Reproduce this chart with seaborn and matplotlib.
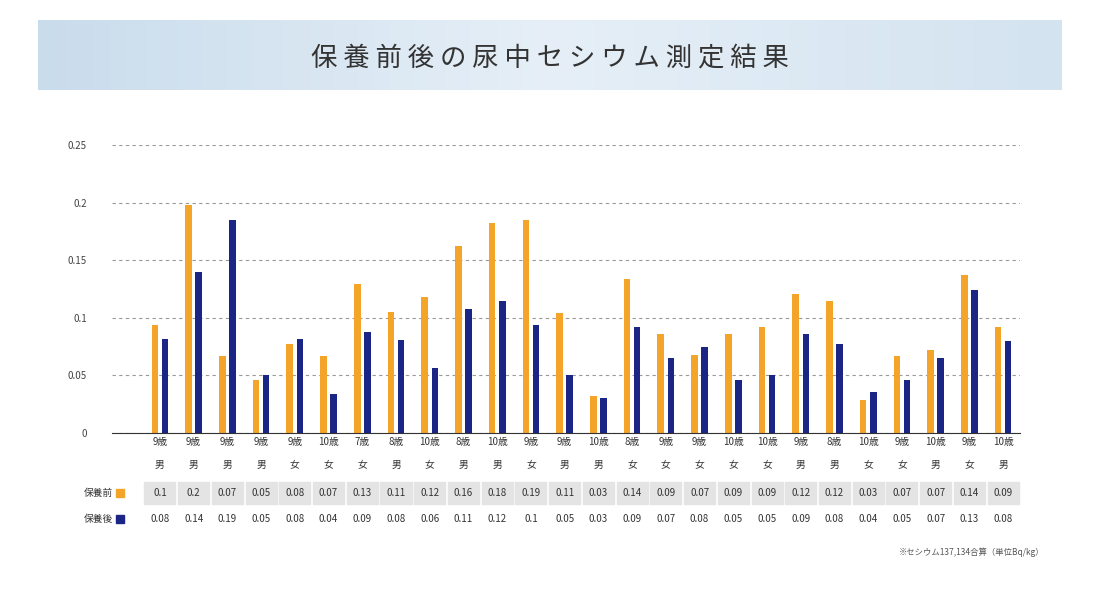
import numpy as np
import pandas as pd
import matplotlib.pyplot as plt
import matplotlib.patches as mpatches
from matplotlib.transforms import blended_transform_factory
import seaborn as sns

plt.rcParams["font.family"] = ["Noto Sans CJK JP", "DejaVu Sans"]

ages = ["9歳", "9歳", "9歳", "9歳", "9歳", "10歳", "7歳", "8歳", "10歳", "8歳", "10歳", "9歳", "9歳",
        "10歳", "8歳", "9歳", "9歳", "10歳", "10歳", "9歳", "8歳", "10歳", "9歳", "10歳", "9歳", "10歳"]
sexes = ["男", "男", "男", "男", "女", "女", "女", "男", "女", "男", "男", "女", "男",
         "男", "女", "女", "女", "女", "女", "男", "男", "女", "女", "男", "女", "男"]
before = [0.094, 0.198, 0.067, 0.046, 0.077, 0.067, 0.129, 0.105, 0.118, 0.162, 0.182, 0.185, 0.104,
          0.032, 0.134, 0.086, 0.068, 0.086, 0.092, 0.121, 0.115, 0.029, 0.067, 0.072, 0.137, 0.092]
after = [0.082, 0.140, 0.185, 0.050, 0.082, 0.034, 0.088, 0.081, 0.056, 0.108, 0.115, 0.094, 0.050,
         0.030, 0.092, 0.065, 0.075, 0.046, 0.050, 0.086, 0.077, 0.036, 0.046, 0.065, 0.124, 0.080]
before_lbl = ["0.1", "0.2", "0.07", "0.05", "0.08", "0.07", "0.13", "0.11", "0.12", "0.16", "0.18", "0.19", "0.11",
              "0.03", "0.14", "0.09", "0.07", "0.09", "0.09", "0.12", "0.12", "0.03", "0.07", "0.07", "0.14", "0.09"]
after_lbl = ["0.08", "0.14", "0.19", "0.05", "0.08", "0.04", "0.09", "0.08", "0.06", "0.11", "0.12", "0.1", "0.05",
             "0.03", "0.09", "0.07", "0.08", "0.05", "0.05", "0.09", "0.08", "0.04", "0.05", "0.07", "0.13", "0.08"]
series = ["保養前", "保養後"]
colors = ["#f5a42a", "#1a2585"]

n = len(ages)
df = pd.DataFrame({
    "idx": list(range(n)) * 2,
    "val": before + after,
    "series": [series[0]] * n + [series[1]] * n,
})

fig = plt.figure(figsize=(11, 6.01), dpi=100)

# header band
hdr = fig.add_axes([38 / 1100, 1 - 90 / 601, 1024 / 1100, 70 / 601])
grad = np.linspace(0, 1, 256).reshape(1, -1)
hdr.imshow(np.vstack([grad, grad]), aspect="auto",
           cmap=sns.blend_palette(["#c9dcec", "#e6eff7", "#d3e3f0"], as_cmap=True))
hdr.axis("off")
fig.text(0.5, 1 - 58 / 601, "保 養 前 後 の 尿 中 セ シ ウ ム 測 定 結 果", ha="center", va="center",
         fontsize=19, color="#333333")

ax = fig.add_axes([112 / 1100, 1 - 433 / 601, 908 / 1100, 288 / 601])
sns.barplot(data=df, x="idx", y="val", hue="series", palette=colors, width=0.6, gap=0.35,
            saturation=1, ax=ax, legend=False)
ax.set_ylim(0, 0.25)
ax.set_xlim(-1.42, n - 0.5)
ax.set_yticks([0, 0.05, 0.1, 0.15, 0.2, 0.25])
ax.set_yticklabels(["0", "0.05", "0.1", "0.15", "0.2", "0.25"], fontsize=7, color="#444444")
ax.yaxis.grid(True, linestyle=(0, (3, 3)), color="#999999", linewidth=0.8)
ax.set_axisbelow(True)
for s in ["top", "right", "left"]:
    ax.spines[s].set_visible(False)
ax.spines["bottom"].set_color("#333333")
ax.tick_params(axis="y", length=0, pad=18)
ax.set_xticks([])
ax.set_xlabel("")
ax.set_ylabel("")

tr = blended_transform_factory(ax.transData, fig.transFigure)
for i in range(n):
    ax.text(i, 1 - 442 / 601, ages[i], transform=tr, ha="center", va="center", fontsize=7, color="#333333")
    ax.text(i, 1 - 465 / 601, sexes[i], transform=tr, ha="center", va="center", fontsize=7, color="#333333")
    ax.add_patch(mpatches.Rectangle((i - 0.46, 1 - 504 / 601), 0.92, 22 / 601, transform=tr,
                                    color="#e4e4e4", clip_on=False))
    ax.text(i, 1 - 493 / 601, before_lbl[i], transform=tr, ha="center", va="center", fontsize=7, color="#333333")
    ax.text(i, 1 - 519 / 601, after_lbl[i], transform=tr, ha="center", va="center", fontsize=7, color="#333333")

for k, y in enumerate([493, 519]):
    fig.text(84 / 1100, 1 - y / 601, series[k], ha="left", va="center", fontsize=7, color="#333333")
    fig.patches.append(mpatches.Rectangle((116 / 1100, 1 - (y + 4) / 601), 8 / 1100, 8 / 601,
                                          transform=fig.transFigure, color=colors[k]))

fig.text(1045 / 1100, 1 - 552 / 601, "※セシウム137,134合算（単位Bq/kg）", ha="right", va="center",
         fontsize=6, color="#555555")

fig.savefig("out.png", dpi=100, facecolor="white")
